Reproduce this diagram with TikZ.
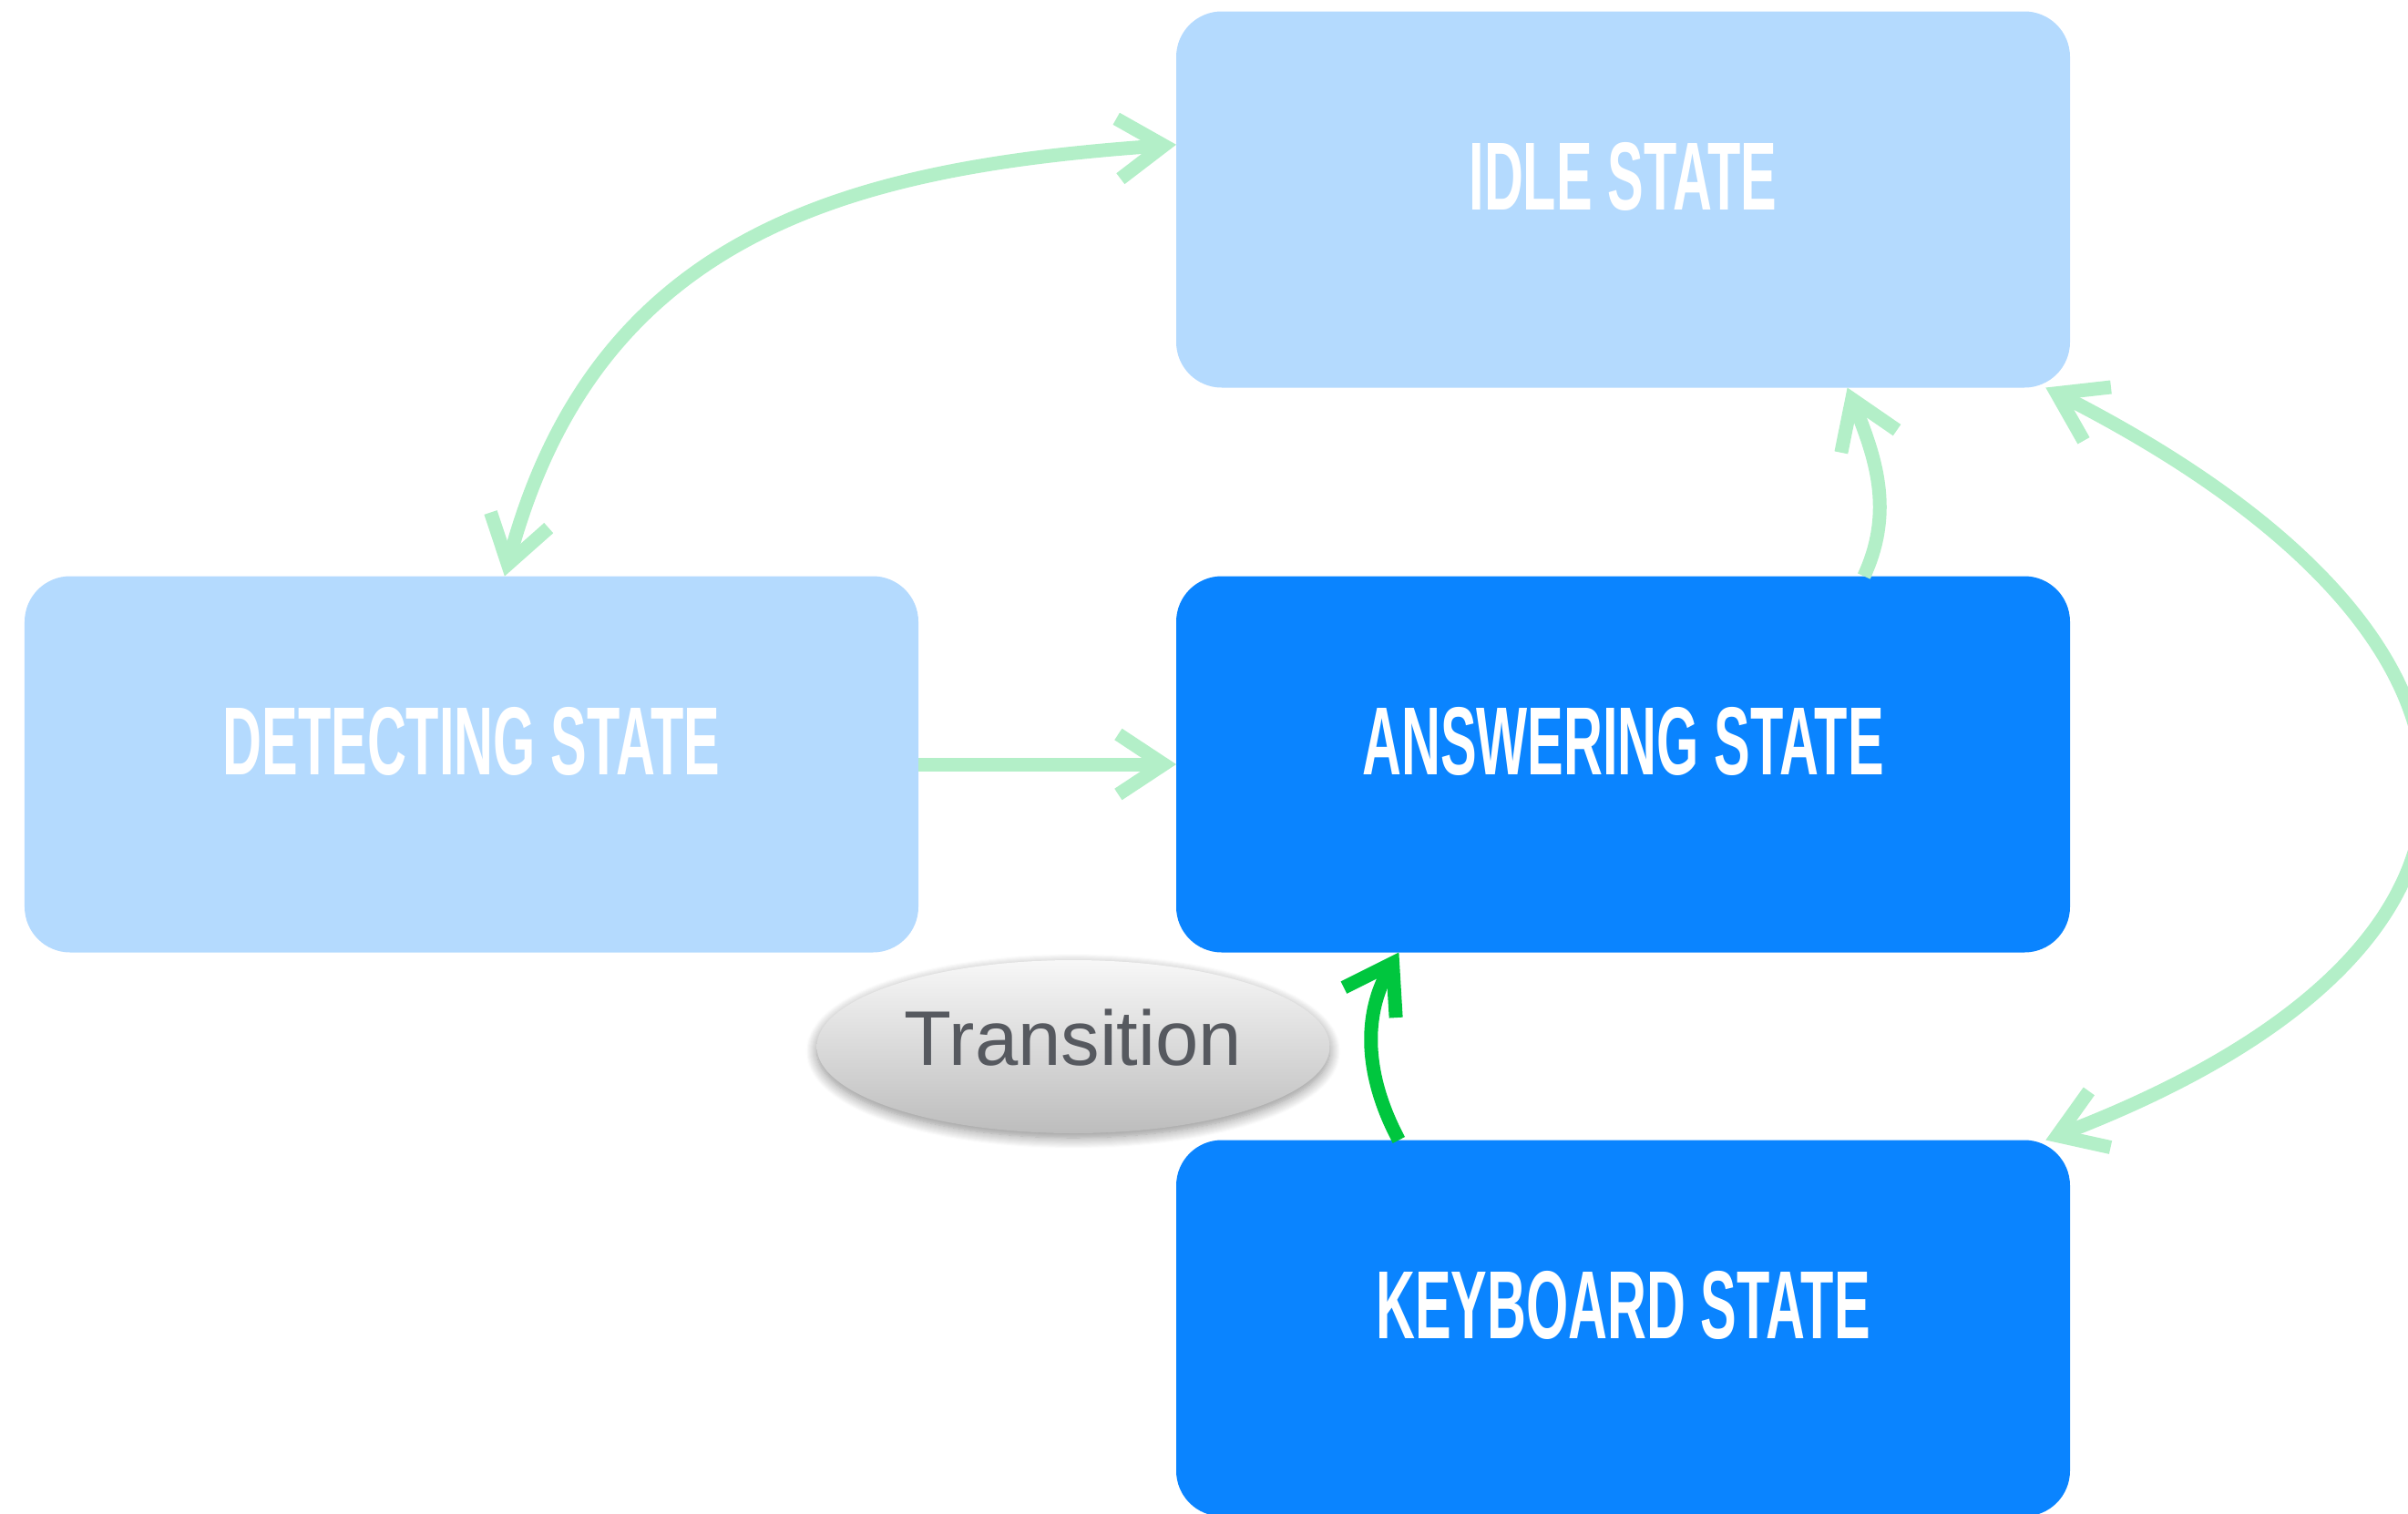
\documentclass[tikz,border=0pt]{standalone}
\usepackage{fontspec}
\usetikzlibrary{shapes.geometric,arrows.meta,positioning,shadows.blur}

\newfontfamily\statefont[FakeStretch=0.56]{Liberation Sans Bold}
\newfontfamily\transfont{Liberation Sans}

\definecolor{idleblue}{HTML}{B4DAFE}
\definecolor{activeblue}{HTML}{0A84FF}
\definecolor{linkgreen}{HTML}{B3EFC8}
\definecolor{firegreen}{HTML}{00C63E}
\definecolor{labelgray}{HTML}{56595F}

\begin{document}
\begin{tikzpicture}[
    >={Straight Barb[length=0.5cm,width=0.66cm]},
    state/.style={rectangle, minimum width=9.81cm, minimum height=4.13cm, rounded corners=0.5cm, inner sep=0pt, outer sep=0pt, text=white, font=\statefont\fontsize{30.2}{36}\selectfont},
    passive/.style={state, fill=idleblue},
    active/.style={state, fill=activeblue},
    transition/.style={ellipse, minimum width=5.63cm, minimum height=1.9cm, inner sep=0pt, top color=black!3, bottom color=black!26, draw=none, text=labelgray, font=\transfont\fontsize{24.2}{29}\selectfont, blur shadow={shadow xshift=0cm, shadow yshift=-0.05cm, shadow blur steps=12, shadow blur radius=0.12cm, shadow opacity=45}},
    link/.style={line width=0.15cm, draw=linkgreen, line join=round},
    fire/.style={line width=0.15cm, draw=firegreen, line join=round}
]
\useasboundingbox (0,0) rectangle (26.43,-16.62);

% States
\node[passive] (idle) at (17.815,-2.19) {\raisebox{0.52cm}{IDLE STATE}};
\node[active, below=2.07cm of idle] (answering) {\raisebox{0.52cm}{ANSWERING STATE}};
\node[passive, left=2.83cm of answering] (detecting) {\raisebox{0.52cm}{DETECTING STATE}};
\node[active, below=2.06cm of answering] (keyboard) {\raisebox{0.52cm}{KEYBOARD STATE}};

% Legend
\node[transition] (trans) at (11.78,-11.49) {\raisebox{0.2cm}{Transition}};

% Connections
\draw[link, <->] (detecting.80.7) to[out=75, in=184, out distance=3.9cm, in distance=3.6cm] (idle.173.7);
\draw[link, ->] (detecting) -- (answering);
\draw[link, ->] (answering.38.3) to[out=65, in=-68, distance=0.8cm] (idle.-40.3);
\draw[link, <->] (keyboard.24) to[out=21, in=-27, distance=6cm] (idle.-24);
\draw[fire, ->] (keyboard.140.3) to[out=118, in=-120, distance=0.8cm] (answering.220.5);

\end{tikzpicture}
\end{document}
